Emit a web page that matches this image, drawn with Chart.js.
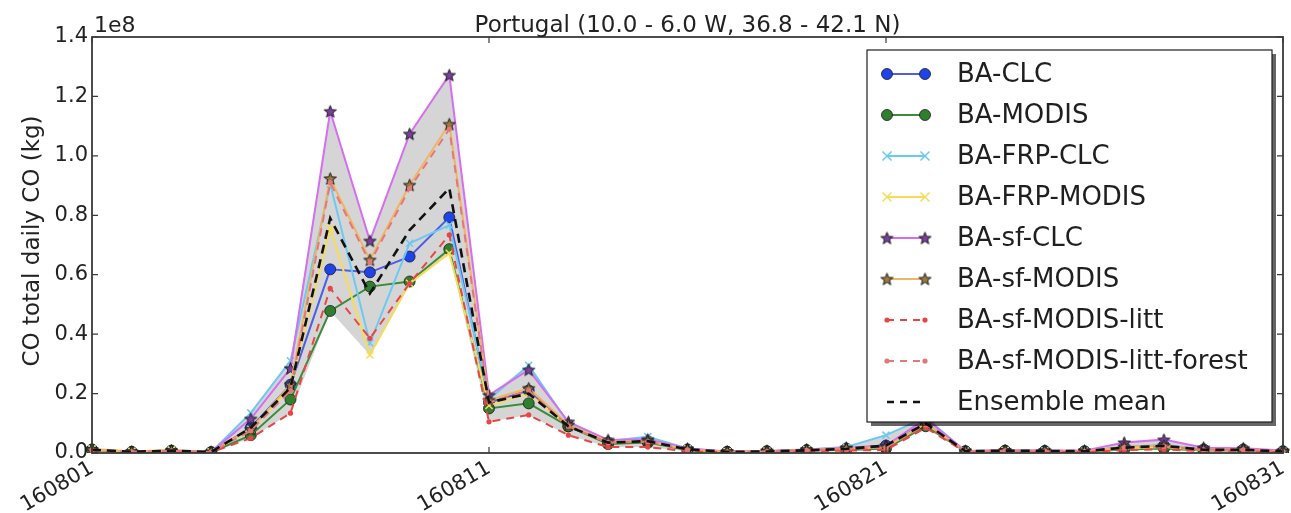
<!DOCTYPE html>
<html>
<head>
<meta charset="utf-8">
<script src="https://cdn.jsdelivr.net/npm/chart.js@4.4.1/dist/chart.umd.min.js"></script>
<style>
html,body{margin:0;padding:0;background:#fff;}
#wrap{width:1291px;height:513px;}
</style>
</head>
<body>
<div id="wrap"><canvas id="c" width="1291" height="513"></canvas></div>
<script>
// ---- data (values in units of 1e8 kg) ----
const dates = ['160801','160802','160803','160804','160805','160806','160807','160808','160809','160810',
               '160811','160812','160813','160814','160815','160816','160817','160818','160819','160820',
               '160821','160822','160823','160824','160825','160826','160827','160828','160829','160830','160831'];
const yTicks = [0.0,0.2,0.4,0.6,0.8,1.0,1.2,1.4];
const xTickDates = ['160801','160811','160821','160831'];

const baClc        = [0.012,0.004,0.008,0.003,0.085,0.230,0.618,0.608,0.661,0.793,0.170,0.210,0.090,0.035,0.040,0.012,0.004,0.006,0.010,0.015,0.025,0.100,0.006,0.008,0.007,0.006,0.020,0.025,0.012,0.012,0.006];
const baModis      = [0.010,0.003,0.006,0.002,0.060,0.180,0.478,0.560,0.577,0.686,0.150,0.167,0.090,0.030,0.035,0.010,0.003,0.005,0.008,0.010,0.015,0.090,0.005,0.006,0.005,0.004,0.012,0.015,0.008,0.008,0.004];
const baFrpClc     = [0.012,0.004,0.008,0.003,0.135,0.310,0.905,0.370,0.706,0.767,0.180,0.295,0.100,0.040,0.055,0.015,0.004,0.006,0.012,0.020,0.060,0.120,0.006,0.008,0.007,0.006,0.020,0.028,0.012,0.012,0.006];
const baFrpModis   = [0.014,0.006,0.010,0.003,0.080,0.220,0.756,0.330,0.571,0.672,0.160,0.200,0.090,0.035,0.040,0.012,0.004,0.006,0.010,0.015,0.020,0.100,0.006,0.008,0.006,0.005,0.015,0.020,0.010,0.010,0.005];
const baSfClc      = [0.012,0.004,0.008,0.003,0.115,0.285,1.150,0.714,1.074,1.272,0.195,0.280,0.105,0.044,0.046,0.015,0.005,0.007,0.012,0.018,0.025,0.115,0.007,0.009,0.008,0.008,0.035,0.045,0.018,0.016,0.008];
const baSfModis    = [0.012,0.004,0.008,0.003,0.080,0.230,0.924,0.650,0.902,1.107,0.178,0.218,0.095,0.038,0.040,0.012,0.004,0.006,0.010,0.015,0.020,0.100,0.006,0.008,0.007,0.006,0.020,0.025,0.012,0.012,0.006];
const baSfLitt     = [0.008,0.002,0.005,0.002,0.050,0.134,0.554,0.386,0.571,0.734,0.105,0.128,0.060,0.020,0.020,0.006,0.002,0.003,0.006,0.008,0.010,0.085,0.003,0.004,0.004,0.003,0.010,0.012,0.006,0.006,0.003];
const baSfLittFor  = [0.011,0.004,0.007,0.003,0.075,0.210,0.910,0.640,0.890,1.090,0.170,0.210,0.090,0.035,0.038,0.011,0.004,0.005,0.009,0.013,0.018,0.095,0.005,0.007,0.006,0.005,0.018,0.022,0.011,0.011,0.005];
const ensMean      = [0.011,0.004,0.008,0.003,0.085,0.220,0.790,0.537,0.750,0.891,0.170,0.200,0.090,0.035,0.040,0.012,0.004,0.005,0.009,0.014,0.025,0.100,0.006,0.008,0.007,0.006,0.018,0.024,0.011,0.011,0.005];

const members = [baClc, baModis, baFrpClc, baFrpModis, baSfClc, baSfModis, baSfLitt, baSfLittFor];
const bandHigh = dates.map((d, i) => Math.max(...members.map(s => s[i])));
const bandLow  = dates.map((d, i) => Math.min(...members.map(s => s[i])));

const FONT = "'DejaVu Sans', 'Bitstream Vera Sans', sans-serif";

function starImg(fill) {
  const s = 15, c = document.createElement('canvas');
  c.width = s; c.height = s;
  const g = c.getContext('2d');
  const cx = s / 2, cy = s / 2 + 0.6, R = 6.4, r = 2.7;
  g.beginPath();
  for (let k = 0; k < 10; k++) {
    const a = -Math.PI / 2 + k * Math.PI / 5, rr = k % 2 ? r : R;
    g.lineTo(cx + rr * Math.cos(a), cy + rr * Math.sin(a));
  }
  g.closePath();
  g.fillStyle = fill; g.fill();
  g.lineWidth = 1; g.strokeStyle = '#1a1a1a'; g.stroke();
  return c;
}
const starPurple = starImg('#7b3f9e');
const starBrown  = starImg('#9c7a3c');

function line(label, data, color, opt) {
  return Object.assign({
    label, data, borderColor: color, backgroundColor: color,
    borderWidth: 2, pointRadius: 0, pointHoverRadius: 0, fill: false, tension: 0
  }, opt);
}

const datasets = [
  line('BA-CLC', baClc, '#4f5de6', {pointStyle:'circle', pointRadius:5.5, pointBackgroundColor:'#1e44e8', pointBorderColor:'#1a1a1a', pointBorderWidth:0.8, order:9}),
  line('BA-MODIS', baModis, '#3a8c3a', {pointStyle:'circle', pointRadius:5.5, pointBackgroundColor:'#2f7f2f', pointBorderColor:'#1a1a1a', pointBorderWidth:0.8, order:8}),
  line('BA-FRP-CLC', baFrpClc, '#6ccaf2', {pointStyle:'crossRot', pointRadius:5, pointBorderColor:'#6ccaf2', pointBorderWidth:1.5, order:7}),
  line('BA-FRP-MODIS', baFrpModis, '#f6dc5a', {pointStyle:'crossRot', pointRadius:5, pointBorderColor:'#f6dc5a', pointBorderWidth:1.5, order:6}),
  line('BA-sf-CLC', baSfClc, '#d66ef0', {pointStyle:starPurple, pointRadius:6, order:5}),
  line('BA-sf-MODIS', baSfModis, '#f0b464', {pointStyle:starBrown, pointRadius:6, order:4}),
  line('BA-sf-MODIS-litt', baSfLitt, '#e84646', {borderDash:[8,6], pointStyle:'circle', pointRadius:2.6, pointBackgroundColor:'#e84646', pointBorderColor:'#e84646', pointBorderWidth:0, order:3}),
  line('BA-sf-MODIS-litt-forest', baSfLittFor, '#e27878', {borderDash:[8,6], pointStyle:'circle', pointRadius:2.6, pointBackgroundColor:'#e27878', pointBorderColor:'#e27878', pointBorderWidth:0, order:2}),
  line('Ensemble mean', ensMean, '#111111', {borderDash:[9,6], borderWidth:2.6, order:1}),
  {label:'band-high', data:bandHigh, isBand:true, borderWidth:0, pointRadius:0, borderColor:'rgba(0,0,0,0)', backgroundColor:'rgba(150,150,150,0.40)', fill:'+1', order:20},
  {label:'band-low', data:bandLow, isBand:true, borderWidth:0, pointRadius:0, borderColor:'rgba(0,0,0,0)', backgroundColor:'rgba(0,0,0,0)', fill:false, order:21}
];

function drawMarker(ctx, ds, x, y) {
  if (!ds.pointRadius) return;
  const st = ds.pointStyle;
  if (st instanceof HTMLCanvasElement) {
    ctx.drawImage(st, x - st.width / 2, y - st.height / 2);
  } else if (st === 'circle') {
    ctx.beginPath(); ctx.arc(x, y, ds.pointRadius, 0, Math.PI * 2);
    ctx.fillStyle = ds.pointBackgroundColor; ctx.fill();
    if (ds.pointBorderWidth) { ctx.lineWidth = ds.pointBorderWidth; ctx.strokeStyle = ds.pointBorderColor; ctx.stroke(); }
  } else if (st === 'crossRot') {
    const r = ds.pointRadius * 0.9;
    ctx.beginPath(); ctx.moveTo(x - r, y - r); ctx.lineTo(x + r, y + r);
    ctx.moveTo(x - r, y + r); ctx.lineTo(x + r, y - r);
    ctx.lineWidth = ds.pointBorderWidth; ctx.strokeStyle = ds.pointBorderColor; ctx.setLineDash([]); ctx.stroke();
  }
}

const decorPlugin = {
  id: 'decor',
  afterDraw(chart) {
    const ctx = chart.ctx, a = chart.chartArea;
    const xs = chart.scales.x, ys = chart.scales.y;
    ctx.save();
    // frame
    ctx.strokeStyle = '#3a3a3a'; ctx.lineWidth = 1.8; ctx.setLineDash([]);
    ctx.strokeRect(a.left, a.top, a.right - a.left, a.bottom - a.top);
    // inward ticks
    ctx.lineWidth = 1.2;
    ctx.beginPath();
    yTicks.forEach(v => {
      const y = ys.getPixelForValue(v);
      ctx.moveTo(a.left, y); ctx.lineTo(a.left + 6, y);
      ctx.moveTo(a.right, y); ctx.lineTo(a.right - 6, y);
    });
    xTickDates.forEach(d => {
      const x = xs.getPixelForValue(dates.indexOf(d));
      ctx.moveTo(x, a.top); ctx.lineTo(x, a.top + 6);
      ctx.moveTo(x, a.bottom); ctx.lineTo(x, a.bottom - 6);
    });
    ctx.stroke();
    // title
    ctx.fillStyle = '#222';
    ctx.font = '23px ' + FONT;
    ctx.textAlign = 'center'; ctx.textBaseline = 'alphabetic';
    ctx.fillText('Portugal (10.0 - 6.0 W, 36.8 - 42.1 N)', (a.left + a.right) / 2, 32);
    // offset text
    ctx.font = '22px ' + FONT; ctx.textAlign = 'left';
    ctx.fillText('1e8', a.left + 2, 32);
    // y axis title
    ctx.save();
    ctx.translate(33, 241); ctx.rotate(-Math.PI / 2);
    ctx.font = '23px ' + FONT; ctx.textAlign = 'center'; ctx.textBaseline = 'middle';
    ctx.fillText('CO total daily CO (kg)', 0, 0);
    ctx.restore();
    // legend box
    const L = 867, T = 50, R = 1272, B = 422;
    ctx.fillStyle = 'rgba(0,0,0,0.6)'; ctx.fillRect(L + 4, T + 4, R - L, B - T);
    ctx.fillStyle = '#fff'; ctx.fillRect(L, T, R - L, B - T);
    ctx.strokeStyle = '#1f1f1f'; ctx.lineWidth = 1.2; ctx.strokeRect(L, T, R - L, B - T);
    const items = chart.data.datasets.filter(d => !d.isBand);
    items.forEach((ds, k) => {
      const y = 74 + k * 41, x1 = 887, x2 = 925;
      ctx.beginPath(); ctx.moveTo(x1, y); ctx.lineTo(x2, y);
      ctx.setLineDash(ds.borderDash ? [7, 6] : []);
      ctx.strokeStyle = ds.borderColor; ctx.lineWidth = ds.borderWidth; ctx.stroke();
      ctx.setLineDash([]);
      drawMarker(ctx, ds, x1, y); drawMarker(ctx, ds, x2, y);
      ctx.fillStyle = '#1f1f1f'; ctx.font = '26px ' + FONT;
      ctx.textAlign = 'left'; ctx.textBaseline = 'middle';
      ctx.fillText(ds.label, 957, y + 1);
    });
    ctx.restore();
  }
};

new Chart(document.getElementById('c'), {
  type: 'line',
  data: { labels: dates, datasets },
  options: {
    responsive: false, animation: false, devicePixelRatio: 1,
    layout: { padding: { top: 37, right: 8, left: 0, bottom: 0 } },
    plugins: { legend: { display: false }, tooltip: { enabled: false }, title: { display: false } },
    elements: { line: { borderCapStyle: 'butt' } },
    scales: {
      x: {
        type: 'category', offset: false,
        grid: { display: false, drawTicks: false }, border: { display: false },
        ticks: {
          autoSkip: false, maxRotation: 30, minRotation: 30, padding: 3,
          color: '#222', font: { family: FONT, size: 21 },
          callback: function (v, i) { const l = this.getLabelForValue(v); return xTickDates.includes(l) ? l : ''; }
        },
        afterFit: s => { s.height = 60; s.paddingRight = 0; s.paddingLeft = 0; }
      },
      y: {
        min: 0, max: 1.4,
        grid: { display: false, drawTicks: false }, border: { display: false },
        afterBuildTicks: s => { s.ticks = yTicks.map(v => ({ value: v })); },
        ticks: { padding: 4, color: '#222', font: { family: FONT, size: 21 }, callback: v => v.toFixed(1) },
        afterFit: s => { s.width = 92; s.paddingTop = 0; s.paddingBottom = 0; }
      }
    }
  },
  plugins: [decorPlugin]
});
</script>
</body>
</html>
